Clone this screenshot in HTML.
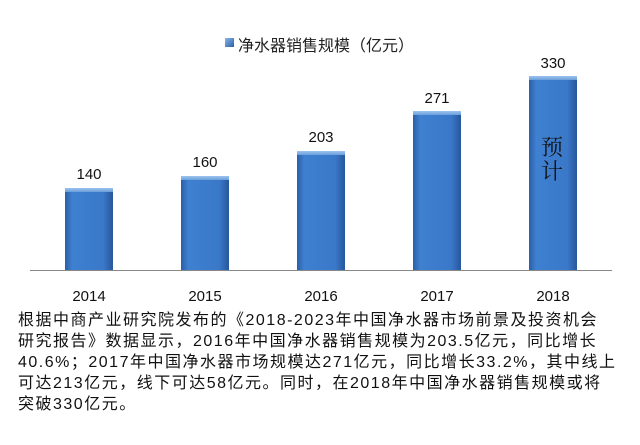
<!DOCTYPE html>
<html><head><meta charset="utf-8"><style>
body{margin:0;width:640px;height:445px;background:#fff;position:relative;overflow:hidden;font-family:"Liberation Sans","Noto Sans CJK SC",sans-serif;color:#111}
.bar{position:absolute;width:48px;bottom:175px;background:linear-gradient(90deg,#2a5ea8 0%,#3f80d0 15%,#3a78c8 80%,#27579c 100%);}
.bar:before{content:"";position:absolute;left:0;right:0;top:0;height:4px;background:linear-gradient(#9cc4ee,#6aa0dc)}
.v{position:absolute;width:60px;text-align:center;font-size:15px}
.y{position:absolute;width:60px;text-align:center;font-size:15px;top:288px}
.p{position:absolute;left:18px;top:310px;width:630px;font-size:16px;line-height:21px;white-space:nowrap;letter-spacing:1.5px}
</style></head><body>
<div style="position:absolute;left:225px;top:38px;width:9px;height:9px;background:linear-gradient(135deg,#8ab8ea,#2a5ea8)"></div>
<div style="position:absolute;left:238px;top:32px;font-size:16px;color:#222">净水器销售规模（亿元）</div>
<div style="position:absolute;left:30px;top:270px;width:582px;height:1px;background:#888"></div>
<div class="bar" style="left:65px;height:82px"></div>
<div class="bar" style="left:181px;height:94px"></div>
<div class="bar" style="left:297px;height:119px"></div>
<div class="bar" style="left:413px;height:159px"></div>
<div class="bar" style="left:529px;height:194px"></div>
<div class="v" style="left:59px;top:166px">140</div>
<div class="v" style="left:175px;top:154px">160</div>
<div class="v" style="left:291px;top:129px">203</div>
<div class="v" style="left:407px;top:90px">271</div>
<div class="v" style="left:523px;top:55px">330</div>
<div style="position:absolute;left:541px;top:135px;font-size:22px;line-height:24px;width:24px;font-family:'Noto Serif CJK SC',serif;color:#111">预<br>计</div>
<div class="y" style="left:59px">2014</div>
<div class="y" style="left:175px">2015</div>
<div class="y" style="left:291px">2016</div>
<div class="y" style="left:407px">2017</div>
<div class="y" style="left:523px">2018</div>
<div class="p">根据中商产业研究院发布的《2018-2023年中国净水器市场前景及投资机会<br>研究报告》数据显示，2016年中国净水器销售规模为203.5亿元，同比增长<br>40.6%；2017年中国净水器市场规模达271亿元，同比增长33.2%，其中线上<br>可达213亿元，线下可达58亿元。同时，在2018年中国净水器销售规模或将<br>突破330亿元。</div>
</body></html>
